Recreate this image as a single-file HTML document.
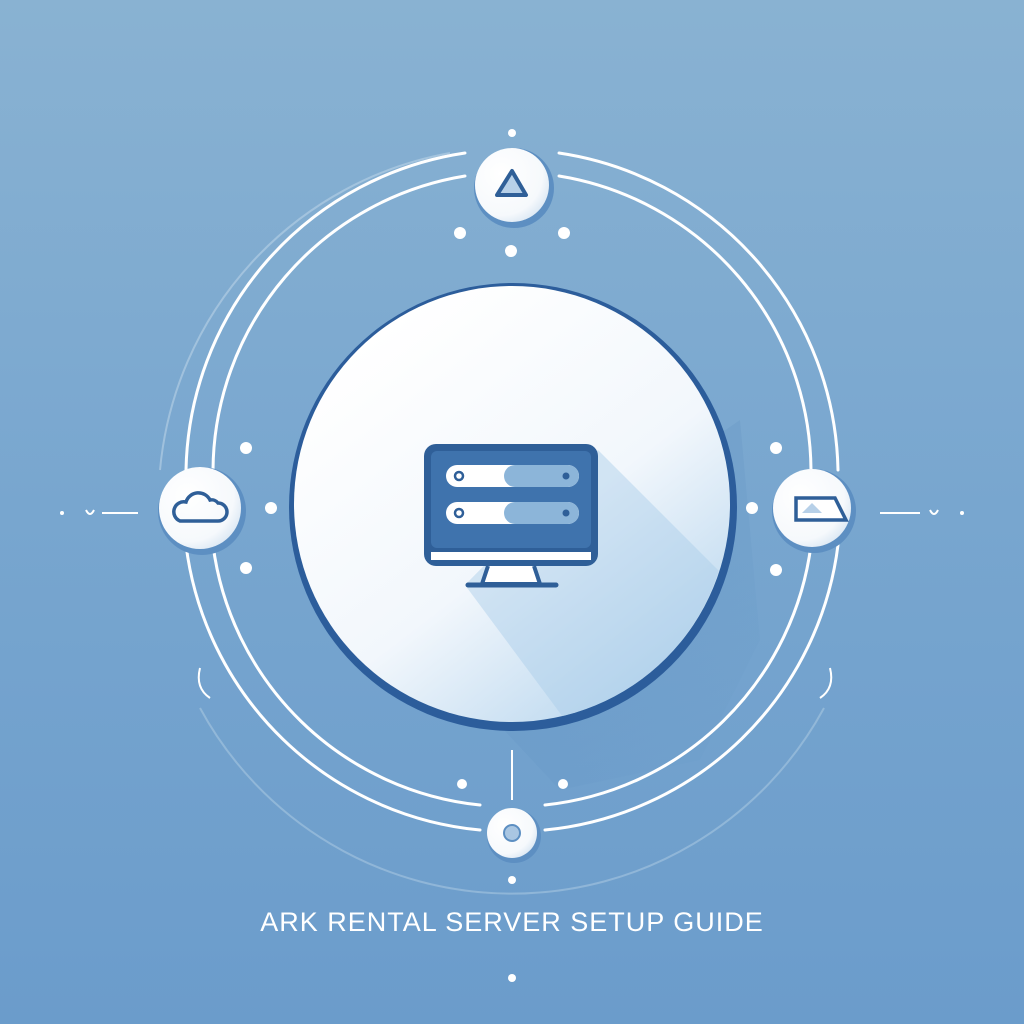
<!DOCTYPE html>
<html><head><style>
html,body{margin:0;padding:0;width:1024px;height:1024px;overflow:hidden}
body{background:linear-gradient(180deg,#89b2d2 0%,#78a6cf 50%,#6b9ccb 100%);font-family:"Liberation Sans",sans-serif}
</style></head><body>
<svg width="1024" height="1024" viewBox="0 0 1024 1024" style="position:absolute;left:0;top:0">
<defs>
<linearGradient id="cg" x1="0.2" y1="0.1" x2="0.85" y2="0.95">
<stop offset="0" stop-color="#ffffff"/><stop offset="0.55" stop-color="#f2f7fc"/><stop offset="1" stop-color="#b8d6ee"/>
</linearGradient>
<linearGradient id="sh" x1="0" y1="0" x2="1" y2="1">
<stop offset="0" stop-color="#4f83b8" stop-opacity="0.6"/><stop offset="1" stop-color="#4f83b8" stop-opacity="0"/>
</linearGradient>
<radialGradient id="ng" cx="0.35" cy="0.35" r="0.8">
<stop offset="0" stop-color="#fff"/><stop offset="0.7" stop-color="#f6f9fc"/><stop offset="1" stop-color="#cfe0f0"/>
</radialGradient>
<clipPath id="cc"><circle cx="512" cy="505" r="217"/></clipPath>
</defs>
<!-- shadow outside -->
<path d="M420 640 L560 790 L700 760 L760 640 L740 420 Z" fill="url(#sh)" opacity="0.5"/>
<!-- outer arcs -->
<g fill="none" stroke="#fff" stroke-width="3" stroke-linecap="round">
<path d="M465 176 A300 300 0 0 0 213 470"/>
<path d="M465 153 A327 327 0 0 0 186 470"/>
<path d="M559 176 A300 300 0 0 1 811 470"/>
<path d="M559 153 A327 327 0 0 1 838 470"/>
<path d="M213 545 A300 300 0 0 0 480 805"/>
<path d="M186 545 A327 327 0 0 0 480 830"/>
<path d="M811 545 A300 300 0 0 1 545 805"/>
<path d="M838 545 A327 327 0 0 1 545 830"/>
</g>
<path d="M450 153 A355 355 0 0 0 160 470" fill="none" stroke="#b9d2e6" stroke-width="2" opacity="0.6"/>
<path d="M200 708 A355 355 0 0 0 824 708" fill="none" stroke="#b9d2e6" stroke-width="2" opacity="0.45"/>
<path d="M200 668 q-5 20 10 30" fill="none" stroke="#fff" stroke-width="2"/>
<path d="M830 668 q5 20 -10 30" fill="none" stroke="#fff" stroke-width="2"/>
<!-- main circle -->
<circle cx="513" cy="507" r="224" fill="#2c5d9b"/>
<circle cx="512" cy="504" r="218" fill="url(#cg)"/>
<path d="M598 450 L760 612 L720 720 L580 740 L465 585 Z" fill="#a9cbe8" opacity="0.45" clip-path="url(#cc)"/>
<!-- monitor -->
<rect x="424" y="444" width="174" height="122" rx="12" fill="#2f5f98"/>
<rect x="431" y="451" width="160" height="97" rx="6" fill="#3f73ad"/>
<rect x="431" y="552" width="160" height="8" fill="#fff"/>
<rect x="446" y="465" width="133" height="22" rx="11" fill="#fff"/>
<path d="M515 465 H568 a11 11 0 0 1 0 22 H515 a11 11 0 0 1 0-22Z" fill="#8cb5d9"/>
<rect x="446" y="502" width="133" height="22" rx="11" fill="#fff"/>
<path d="M515 502 H568 a11 11 0 0 1 0 22 H515 a11 11 0 0 1 0-22Z" fill="#8cb5d9"/>
<circle cx="459" cy="476" r="4" fill="none" stroke="#2f5f98" stroke-width="2.5"/>
<circle cx="459" cy="513" r="4" fill="none" stroke="#2f5f98" stroke-width="2.5"/>
<circle cx="566" cy="476" r="3.5" fill="#2f5f98"/>
<circle cx="566" cy="513" r="3.5" fill="#2f5f98"/>
<path d="M488 566 L482 584 H540 L534 566" fill="#fff" stroke="#2f5f98" stroke-width="4"/>
<line x1="468" y1="585" x2="556" y2="585" stroke="#2f5f98" stroke-width="5" stroke-linecap="round"/>
<!-- nodes -->
<circle cx="514" cy="188" r="40" fill="#5d8fc2"/><circle cx="512" cy="185" r="37" fill="url(#ng)"/>
<path d="M512 171 L526 195 H497 Z" fill="#b7d0e8" stroke="#2f5f98" stroke-width="4" stroke-linejoin="round"/>
<circle cx="202" cy="511" r="44" fill="#5d8fc2"/><circle cx="200" cy="508" r="41" fill="url(#ng)"/>
<path d="M180 521 h38 a9 9 0 0 0 0-18 a8 8 0 0 0-8-3 a13 13 0 0 0-24 2 a10 10 0 0 0-6 19z" fill="none" stroke="#2f5f98" stroke-width="3.5"/>
<circle cx="814" cy="511" r="42" fill="#5d8fc2"/><circle cx="812" cy="508" r="39" fill="url(#ng)"/>
<path d="M796 498 L835 498 L846 520 L796 520 Z" fill="#fff" stroke="#2f5f98" stroke-width="3.5"/>
<path d="M802 513 L812 503 L822 513 Z" fill="#b7d0e8"/>
<circle cx="514" cy="836" r="27" fill="#5d8fc2"/><circle cx="512" cy="833" r="25" fill="url(#ng)"/>
<circle cx="512" cy="833" r="8" fill="#a9c6e2" stroke="#5d8fc2" stroke-width="2"/>
<!-- dots -->
<g fill="#fff">
<circle cx="512" cy="133" r="4"/><circle cx="460" cy="233" r="6"/><circle cx="564" cy="233" r="6"/><circle cx="511" cy="251" r="6"/>
<circle cx="246" cy="448" r="6"/><circle cx="271" cy="508" r="6"/><circle cx="246" cy="568" r="6"/>
<circle cx="776" cy="448" r="6"/><circle cx="752" cy="508" r="6"/><circle cx="776" cy="570" r="6"/>
<circle cx="462" cy="784" r="5"/><circle cx="563" cy="784" r="5"/><circle cx="512" cy="880" r="4"/><circle cx="512" cy="978" r="4"/>
<circle cx="62" cy="513" r="2"/><circle cx="962" cy="513" r="2"/>
</g>
<line x1="512" y1="750" x2="512" y2="800" stroke="#fff" stroke-width="2"/>
<line x1="102" y1="513" x2="138" y2="513" stroke="#fff" stroke-width="2"/>
<line x1="880" y1="513" x2="920" y2="513" stroke="#fff" stroke-width="2"/>
<path d="M86 510 q4 8 8 0" fill="none" stroke="#fff" stroke-width="2"/>
<path d="M930 510 q4 8 8 0" fill="none" stroke="#fff" stroke-width="2"/>
<text x="512" y="931" text-anchor="middle" font-family="Liberation Sans, sans-serif" font-size="27" fill="#fff" letter-spacing="1">ARK RENTAL SERVER SETUP GUIDE</text>
</svg>
</body></html>
